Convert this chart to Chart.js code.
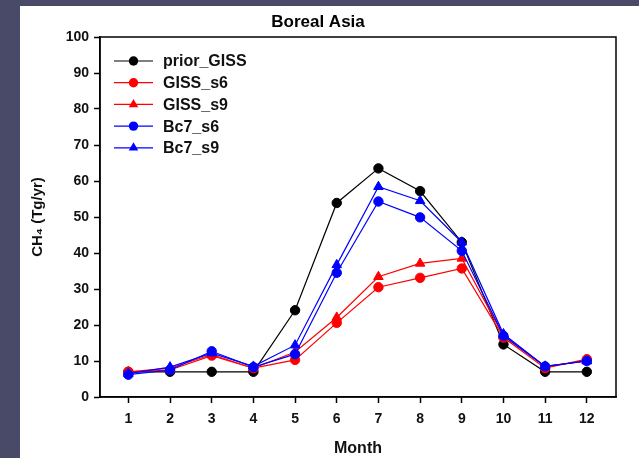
<!DOCTYPE html>
<html>
<head>
<meta charset="utf-8">
<script src="https://cdn.jsdelivr.net/npm/chart.js@4"></script>
<style>
    body { margin: 0; background: #494a68; width: 639px; height: 458px; overflow: hidden; }
    #panel { position: absolute; left: 20px; top: 6px; width: 619px; height: 452px; background: #fff; }
</style>
</head>
<body>
<div id="panel"><canvas id="chartBoreal" width="619" height="452"></canvas></div>
<script>
// months on the x axis, CH4 flux in Tg/yr
const months = [1, 2, 3, 4, 5, 6, 7, 8, 9, 10, 11, 12];
const yTicks = [0, 10, 20, 30, 40, 50, 60, 70, 80, 90, 100];

const priorGISS = [7, 7, 7, 7, 24.1, 53.9, 63.5, 57.2, 43, 14.6, 7, 7];
const giss_s6 = [7, 7.5, 11.5, 8, 10.3, 20.6, 30.5, 33.1, 35.7, 16.5, 8, 10.5];
const giss_s9 = [7, 8, 11.8, 8, 12.5, 22.1, 33.4, 37.1, 38.5, 17, 8.5, 10];
const bc7_s6 = [6.2, 7.5, 12.7, 8.3, 11.9, 34.5, 54.3, 49.9, 40.6, 17, 8.5, 10];
const bc7_s9 = [6.5, 8.3, 12.2, 8.5, 14.4, 36.7, 58.4, 54.5, 43, 17.5, 8.5, 10];

const fontFamily = '"Liberation Sans", Arial, sans-serif';

function toPoints(values) {
    return values.map((v, i) => ({ x: months[i], y: v }));
}

function makeDataset(label, values, color, style, order) {
    return {
        label: label,
        data: toPoints(values),
        borderColor: color,
        backgroundColor: color,
        borderWidth: 1.2,
        pointStyle: style,
        pointRadius: style === 'triangle' ? 5.5 : 4.7,
        pointBorderWidth: 1,
        order: order
    };
}

// legend drawn inside the plot, top left, like the original
const innerLegend = {
    id: 'innerLegend',
    afterDraw(chart) {
        const ctx = chart.ctx;
        const area = chart.chartArea;
        ctx.save();
        chart.data.datasets.forEach((ds, i) => {
            const y = area.top + 24 + i * 21.7;
            const x0 = area.left + 14;
            const x1 = area.left + 53;
            const cx = (x0 + x1) / 2;
            ctx.strokeStyle = ds.borderColor;
            ctx.fillStyle = ds.borderColor;
            ctx.lineWidth = 1.2;
            ctx.beginPath();
            ctx.moveTo(x0, y);
            ctx.lineTo(x1, y);
            ctx.stroke();
            ctx.beginPath();
            if (ds.pointStyle === 'triangle') {
                const r = 5.5;
                ctx.moveTo(cx, y - r);
                ctx.lineTo(cx + r * 0.866, y + r * 0.5);
                ctx.lineTo(cx - r * 0.866, y + r * 0.5);
                ctx.closePath();
            } else {
                ctx.arc(cx, y, 4.7, 0, Math.PI * 2);
            }
            ctx.fill();
            ctx.fillStyle = '#111';
            ctx.font = 'bold 16px ' + fontFamily;
            ctx.textBaseline = 'middle';
            ctx.textAlign = 'left';
            ctx.fillText(ds.label, area.left + 63, y + 1);
        });
        ctx.restore();
    }
};

// frame round the plot area
const plotFrame = {
    id: 'plotFrame',
    afterDatasetsDraw(chart) {
        const ctx = chart.ctx;
        const a = chart.chartArea;
        ctx.save();
        ctx.strokeStyle = '#000';
        ctx.lineWidth = 1.5;
        ctx.strokeRect(a.left, a.top, a.right - a.left, a.bottom - a.top);
        ctx.restore();
    }
};

let chartCanvas = document.getElementById('chartBoreal');
let borealChart = new Chart(chartCanvas, {
    type: 'line',
    data: {
        datasets: [
            makeDataset('prior_GISS', priorGISS, '#000000', 'circle', 5),
            makeDataset('GISS_s6', giss_s6, '#ff0000', 'circle', 4),
            makeDataset('GISS_s9', giss_s9, '#ff0000', 'triangle', 3),
            makeDataset('Bc7_s6', bc7_s6, '#0000ff', 'circle', 1),
            makeDataset('Bc7_s9', bc7_s9, '#0000ff', 'triangle', 2)
        ]
    },
    options: {
        responsive: false,
        animation: false,
        layout: { padding: { top: 0, right: 23, bottom: 0, left: 0 } },
        plugins: {
            legend: { display: false },
            tooltip: { enabled: false },
            title: {
                display: true,
                text: 'Boreal Asia',
                color: '#000',
                font: { family: fontFamily, size: 17, weight: 'bold' },
                padding: { top: 6, bottom: 4.6 }
            }
        },
        scales: {
            x: {
                type: 'linear',
                min: 0.32,
                max: 12.7,
                afterFit(scale) { scale.height = 61; },
                afterBuildTicks(scale) { scale.ticks = months.map(m => ({ value: m })); },
                grid: { drawOnChartArea: false, tickLength: 6, tickColor: '#000', tickWidth: 1.5 },
                border: { color: '#000', width: 1.5 },
                ticks: {
                    color: '#111',
                    padding: 8,
                    font: { family: fontFamily, size: 14, weight: 'bold' }
                },
                title: {
                    display: true,
                    text: 'Month',
                    color: '#111',
                    font: { family: fontFamily, size: 16, weight: 'bold' },
                    padding: { top: 0, bottom: 0 }
                }
            },
            y: {
                min: 0,
                max: 100,
                afterFit(scale) { scale.width = 80; },
                afterBuildTicks(scale) { scale.ticks = yTicks.map(v => ({ value: v })); },
                grid: { drawOnChartArea: false, tickLength: 6, tickColor: '#000', tickWidth: 1.5 },
                border: { color: '#000', width: 1.5 },
                ticks: {
                    color: '#111',
                    padding: 5,
                    font: { family: fontFamily, size: 14, weight: 'bold' }
                },
                title: {
                    display: true,
                    text: 'CH₄ (Tg/yr)',
                    color: '#111',
                    font: { family: fontFamily, size: 15, weight: 'bold' },
                    padding: { top: 9, bottom: 0 }
                }
            }
        }
    },
    plugins: [innerLegend, plotFrame]
});
</script>
</body>
</html>
